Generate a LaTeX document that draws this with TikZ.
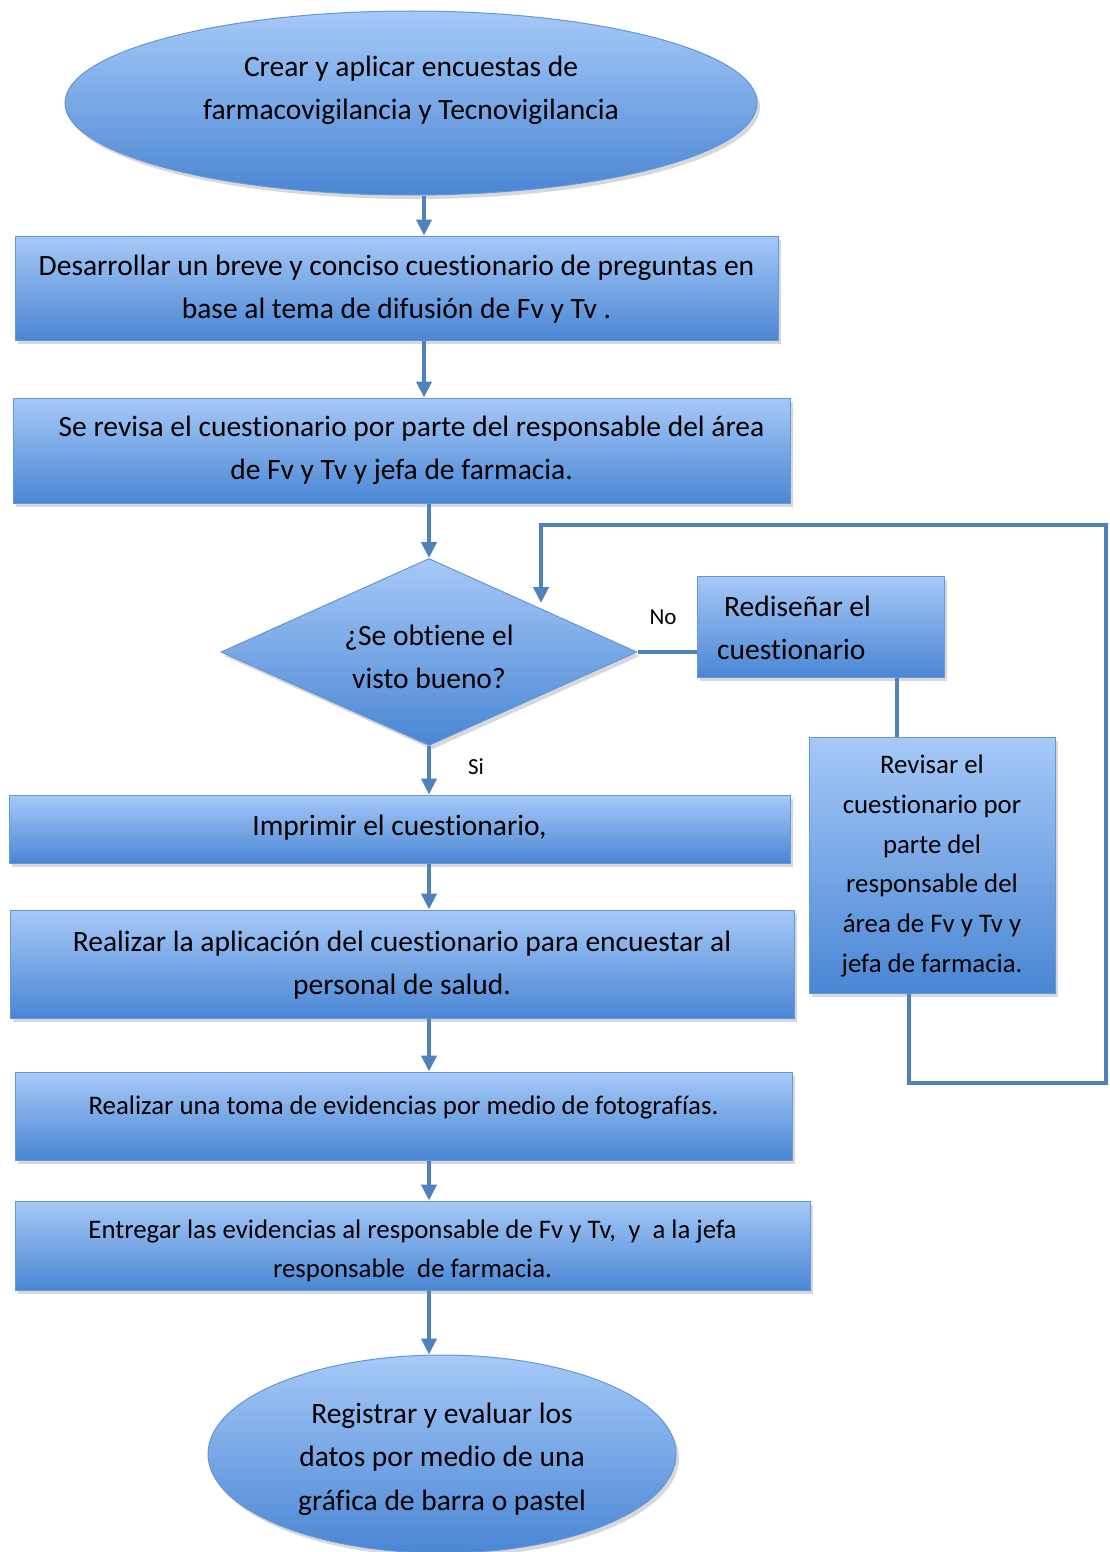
\documentclass[tikz,border=0pt]{standalone}
\usepackage{fontspec}
\setmainfont{Carlito}[Ligatures=NoCommon]
\usetikzlibrary{shapes.geometric,arrows.meta,shadows}
\definecolor{lnk}{RGB}{79,129,189}
\definecolor{topc}{RGB}{166,201,247}
\definecolor{botc}{RGB}{74,134,212}
\definecolor{edgec}{RGB}{100,150,218}
\tikzset{
  shp/.style={top color=topc, bottom color=botc, draw=edgec, line width=1pt,
    inner sep=0pt, align=center, text=black,
    drop shadow={shadow xshift=3pt, shadow yshift=-4pt, opacity=0.3}},
  boxs/.style={shp, rectangle},
  ell/.style={shp, ellipse},
  dia/.style={shp, diamond, aspect=2.2},
  txt/.style={inner sep=0pt, align=center, text=black},
  arr/.style={draw=lnk, line width=4pt, -{Triangle[width=15pt,length=16pt]}},
  lnkline/.style={draw=lnk, line width=4pt},
  lbl/.style={font=\fontsize{23}{26}\selectfont, inner sep=0pt},
  big/.style={font=\fontsize{29.5}{43}\selectfont},
  mid/.style={font=\fontsize{26.8}{39}\selectfont}
}
\begin{document}
\begin{tikzpicture}[x=1pt,y=-1pt]
\useasboundingbox (0,0) rectangle (1109,1552);
\fill[white] (0,0) rectangle (1109,1552);
% shapes
\node[ell, minimum width=692pt, minimum height=184pt] (e1) at (411,103) {};
\node[txt, big] (e1t) at (411,90) {Crear y aplicar encuestas de\\farmacovigilancia y Tecnovigilancia};
\node[boxs, minimum width=763pt, minimum height=104pt] (b1) at (396.5,288) {};
\node[txt, big] (b1t) at (396.5,289)
  {Desarrollar un breve y conciso cuestionario de preguntas en\\base al tema de difusión de Fv y Tv .};
\node[boxs, minimum width=777pt, minimum height=105pt] (b2) at (401.5,450.5) {};
\node[txt, big] (b2t) at (401.5,450)
  {\hspace*{20pt}Se revisa el cuestionario por parte del responsable del área\\de Fv y Tv y jefa de farmacia.};
\node[dia, minimum width=416pt, minimum height=187pt] (d) at (429,652) {};
\node[txt, big] (dt) at (429,657) {¿Se obtiene el\\visto bueno?};
\node[boxs, minimum width=247pt, minimum height=101pt] (red) at (820.5,626.5) {};
\node[txt, big, align=left, anchor=west] (redt) at (717,628)
  {\hspace*{7pt}Rediseñar el\\cuestionario};
\node[boxs, minimum width=246pt, minimum height=256pt] (rev) at (932,865) {};
\node[txt, font=\fontsize{26.8}{39.8}\selectfont] (revt) at (932,866)
  {Revisar el\\cuestionario por\\parte del\\responsable del\\área de Fv y Tv y\\jefa de farmacia.};
\node[boxs, minimum width=781pt, minimum height=68pt] (imp) at (399.5,829) {};
\node[txt, big] (impt) at (399.5,828) {Imprimir el cuestionario,};
\node[boxs, minimum width=784pt, minimum height=108pt] (real) at (402,964) {};
\node[txt, big] (realt) at (402,965)
  {Realizar la aplicación del cuestionario para encuestar al\\personal de salud.};
\node[boxs, minimum width=777pt, minimum height=88pt] (toma) at (403.5,1116) {};
\node[txt, mid] (tomat) at (403.5,1107)
  {Realizar una toma de evidencias por medio de fotografías.};
\node[boxs, minimum width=795pt, minimum height=89pt] (ent) at (412.5,1245.5) {};
\node[txt, mid] (entt) at (412.5,1251)
  {Entregar las evidencias al responsable de Fv y Tv,\ \ y\ \ a la jefa\\responsable\ \ de farmacia.};
\node[ell, minimum width=468pt, minimum height=198pt] (e2) at (442,1454) {};
\node[txt, font=\fontsize{29.5}{43.5}\selectfont] (e2t) at (442,1459)
  {Registrar y evaluar los\\datos por medio de una\\gráfica de barra o pastel};
% helper coordinates
\coordinate (ax) at (424,0);
\coordinate (dx) at (429,0);
\coordinate (rx) at (897,0);
\coordinate (lx) at (909,0);
\coordinate (c1) at (909,1083);
\coordinate (c2) at (1106,1083);
\coordinate (c3) at (1106,525);
\coordinate (c4) at (541,525);
\coordinate (c5) at (541,603);
% connectors
\draw[arr] (e1.south -| ax) -- (b1.north -| ax);
\draw[arr] (b1.south -| ax) -- (b2.north -| ax);
\draw[arr] (b2.south -| dx) -- (d.north);
\draw[arr] (d.south) -- (imp.north -| dx);
\draw[arr] (imp.south -| dx) -- (real.north -| dx);
\draw[arr] (real.south -| dx) -- (toma.north -| dx);
\draw[arr] (toma.south -| dx) -- (ent.north -| dx);
\draw[arr] (ent.south -| dx) -- (e2.north -| dx);
\draw[lnkline] (d.east) -- (d.east -| red.west);
\draw[lnkline] (red.south -| rx) -- (rev.north -| rx);
\draw[arr] (rev.south -| lx) -- (c1) -- (c2) -- (c3) -- (c4) -- (c5);
% labels
\node[lbl] (no) at (663,617) {No};
\node[lbl] (si) at (476,767) {Si};
\end{tikzpicture}
\end{document}
